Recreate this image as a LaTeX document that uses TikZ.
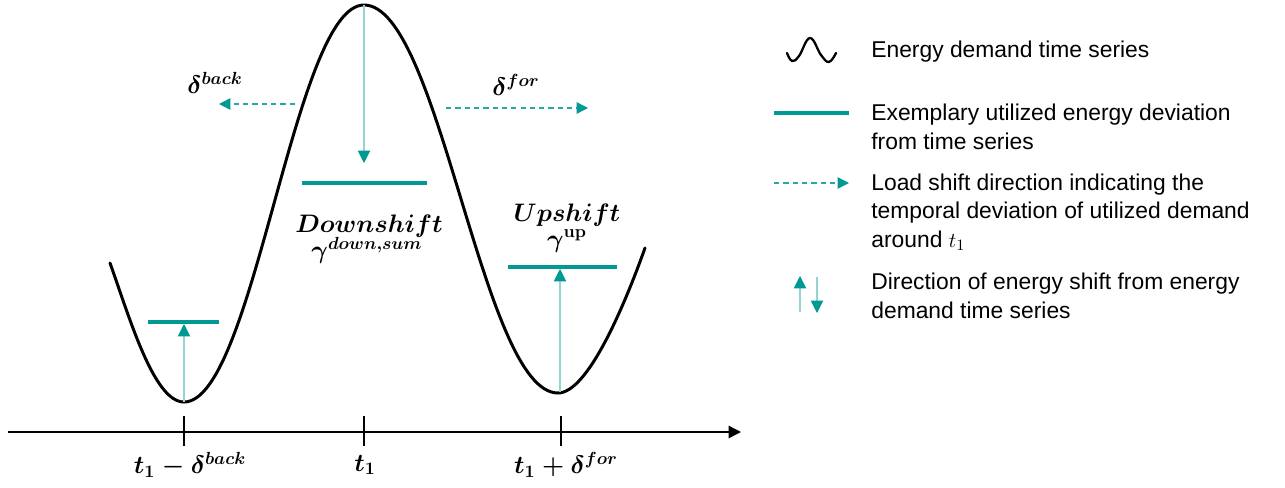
\documentclass[tikz,border=0pt]{standalone}
\usepackage{amsmath,amssymb}
\usepackage{fontspec}
\setmainfont{Liberation Sans}
\usepackage{xcolor}
\usepackage{tikz}
\usetikzlibrary{arrows.meta, positioning}

\definecolor{tealmain}{RGB}{0,153,148}
\definecolor{teallight}{RGB}{150,212,210}

\begin{document}
\begin{tikzpicture}[
  x=0.02cm, y=-0.02cm,
  series/.style={line width=1.7pt, black, line cap=round},
  devbar/.style={line width=2.4pt, tealmain},
  shiftarr/.style={-{Triangle[length=7pt, width=7pt, color=tealmain]}, line width=0.6pt, teallight},
  loadarr/.style={-{Triangle[length=6.5pt, width=6.5pt, color=tealmain]}, line width=0.8pt, tealmain!85, dash pattern=on 3pt off 2.3pt},
  axisline/.style={line width=0.8pt, black},
  mlab/.style={inner sep=0pt, font=\boldmath\fontsize{14}{17}\selectfont},
  legtxt/.style={anchor=west, align=left, inner sep=0pt, font=\fontsize{13}{16.2}\selectfont}
]
\useasboundingbox (0,0) rectangle (1285,487);

% time axis
\coordinate (ax0) at (8,432);
\coordinate (ax1) at (741,432);
\draw[axisline, -{Triangle[length=7pt, width=7pt]}] (ax0) -- (ax1);
\foreach \name/\x in {tback/184, tone/364, tfor/561}
  \draw[axisline] (\x,416) coordinate (\name-up) -- (\x,446) coordinate (\name-dn);
\node[mlab] (lbl-back) at (190,465) {$t_1 - \delta^{back}$};
\node[mlab] (lbl-one) at (365,465) {$t_1$};
\node[mlab] (lbl-for) at (566,465) {$t_1 + \delta^{for}$};

% demand curve
\coordinate (start) at (110,263);
\coordinate (minL) at (184,402);
\coordinate (peak) at (364,5);
\coordinate (minR) at (558,393);
\coordinate (stop) at (645,248);
\draw[series] (start) .. controls (130,319) and (154,402) .. (minL)
  .. controls (254,402) and (294,5) .. (peak)
  .. controls (440,5) and (482,393) .. (minR)
  .. controls (588,393) and (625,304) .. (stop);

% deviation bars
\draw[devbar] (148,322) -- (219,322);
\draw[devbar] (302,183) -- (427,183);
\draw[devbar] (508,267) -- (617,267);

% shift arrows
\coordinate (barL) at (184,324);
\coordinate (barM) at (364,163);
\coordinate (barR) at (560,269);
\draw[shiftarr] (minL) -- (barL);
\draw[shiftarr] (peak) -- (barM);
\draw[shiftarr] (560,392) -- (barR);

% load shift directions
\coordinate (back0) at (295,104);
\coordinate (back1) at (219,104);
\coordinate (for0) at (446,108);
\coordinate (for1) at (588,108);
\draw[loadarr] (back0) -- (back1);
\draw[loadarr] (for0) -- (for1);
\node[mlab] (dback) at (215,83) {$\delta^{back}$};
\node[mlab] (dfor) at (516,85) {$\delta^{for}$};

\node[mlab] (down) at (369,226) {$Downshift$};
\node[mlab] (gdown) at (367,250) {$\gamma^{down,sum}$};
\node[mlab] (up) at (567,215) {$Upshift$};
\node[mlab] (gup) at (567,241) {$\gamma^{\mathbf{up}}$};

% legend
\draw[series, line width=1.3pt] plot[smooth, tension=0.7] coordinates {
  (787,53) (792,61) (799,56) (810,38) (821,55) (829,62) (836,53)};
\node[legtxt] (leg1) at (871,52) {Energy demand time series};

\coordinate (lbar0) at (774,113);
\coordinate (lbar1) at (849,113);
\draw[devbar] (lbar0) -- (lbar1);
\node[legtxt] (leg2) at (871,127) {Exemplary utilized energy deviation\\from time series};

\coordinate (ldash0) at (774,183);
\coordinate (ldash1) at (849,183);
\draw[loadarr] (ldash0) -- (ldash1);
\node[legtxt] (leg3) at (871,212) {Load shift direction indicating the\\temporal deviation of utilized demand\\around $t_1$};

\coordinate (lup0) at (800,312);
\coordinate (lup1) at (800,276);
\coordinate (ldn0) at (817,277);
\coordinate (ldn1) at (817,313);
\draw[shiftarr] (lup0) -- (lup1);
\draw[shiftarr] (ldn0) -- (ldn1);
\node[legtxt] (leg4) at (871,296) {Direction of energy shift from energy\\demand time series};
\end{tikzpicture}
\end{document}
